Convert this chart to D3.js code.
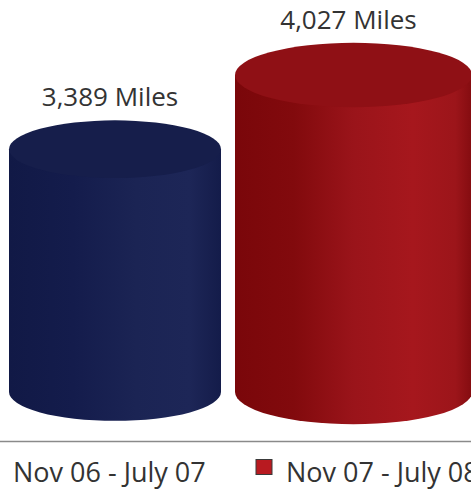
<!DOCTYPE html>
<html>
<head>
<meta charset="utf-8">
<script src="https://cdn.jsdelivr.net/npm/d3@7/dist/d3.min.js"></script>
<style>
  html, body { margin: 0; padding: 0; background: #fff; }
  svg { display: block; }
  text { font-family: "Open Sans", "DejaVu Sans", sans-serif; fill: #333; }
</style>
</head>
<body>
<svg id="chart" width="471" height="497"></svg>
<script>
// Distance travelled per season
const categories = ["Nov 06 - July 07", "Nov 07 - July 08"];
const miles = [3389, 4027];
const valueLabels = ["3,389 Miles", "4,027 Miles"];
const seriesColors = ["#1a2355", "#b81a20"];

const W = 471, H = 497;
const svg = d3.select("#chart");
const defs = svg.append("defs");

// horizontal shading for each cylinder body
const shades = [
  { stops: [[0, "#111946"], [0.3, "#141c4c"], [0.6, "#1b2454"], [0.85, "#1d2657"], [1, "#141c4a"]], top: "#161e4b" },
  { stops: [[0, "#7a070a"], [0.25, "#820a0d"], [0.5, "#9a141a"], [0.75, "#a6171d"], [0.93, "#9c151a"], [1, "#840c10"]], top: "#8f1015" }
];
shades.forEach((s, i) => {
  const g = defs.append("linearGradient")
    .attr("id", "side" + i)
    .attr("x1", "0").attr("x2", "1").attr("y1", "0").attr("y2", "0");
  s.stops.forEach(([o, c]) => g.append("stop").attr("offset", o).attr("stop-color", c));
});

// value axis (not starting at zero, as in the original chart)
const y = d3.scaleLinear().domain([1300, 4027]).range([392, 75]);
const x = d3.scalePoint().domain(categories).range([115, 353.5]);
// the nearer (right) cylinder is drawn slightly wider
const rxScale = d3.scaleLinear().domain([0, 1]).range([106, 118.5]);
const flat = 0.272;

const bars = svg.append("g").selectAll("g")
  .data(categories.map((c, i) => ({ c, i, v: miles[i], label: valueLabels[i] })))
  .join("g");

bars.each(function(d) {
  const g = d3.select(this);
  const cx = x(d.c);
  const rx = rxScale(d.i);
  const ry = rx * flat;
  const yt = y(d.v), yb = y.range()[0];
  const x0 = cx - rx, x1 = cx + rx;

  g.append("path")
    .attr("d", `M${x0},${yt} L${x0},${yb} A${rx},${ry} 0 0 0 ${x1},${yb} L${x1},${yt} Z`)
    .attr("fill", `url(#side${d.i})`);

  g.append("ellipse")
    .attr("cx", cx).attr("cy", yt)
    .attr("rx", rx).attr("ry", ry)
    .attr("fill", shades[d.i].top);

  g.append("text")
    .attr("x", cx - 5)
    .attr("y", yt - ry - 14)
    .attr("text-anchor", "middle")
    .attr("font-size", 26)
    .text(d.label);
});

// category baseline
svg.append("line")
  .attr("x1", 0).attr("x2", W)
  .attr("y1", 441.5).attr("y2", 441.5)
  .attr("stroke", "#8a8a8a")
  .attr("stroke-width", 1.5);

// legend
const legend = svg.append("g").selectAll("g")
  .data(categories)
  .join("g")
  .attr("transform", (d, i) => `translate(${13 + i * 273},0)`);

legend.append("rect")
  .attr("x", -30).attr("y", 459.5)
  .attr("width", 16).attr("height", 15)
  .attr("fill", (d, i) => seriesColors[i])
  .attr("stroke", "#3a3a3a")
  .attr("stroke-width", 1);

legend.append("text")
  .attr("x", 0).attr("y", 482)
  .attr("font-size", 27)
  .text(d => d);
</script>
</body>
</html>
